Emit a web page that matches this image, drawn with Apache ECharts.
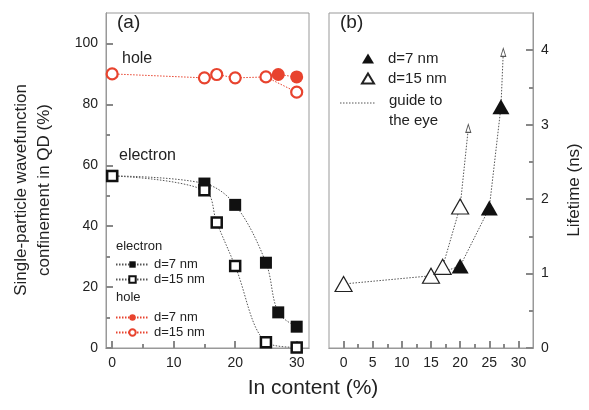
<!DOCTYPE html>
<html>
<head>
<meta charset="utf-8">
<script src="https://cdn.jsdelivr.net/npm/echarts@6/dist/echarts.min.js"></script>
<style>
  html, body { margin: 0; padding: 0; background: #fff; }
  #chart { width: 589px; height: 410px; }
</style>
</head>
<body>
<div id="chart"></div>
<script>
// ---- (a) single-particle confinement vs In content ----
const elec7  = [[0, 56.5], [15, 54], [20, 47], [25, 28], [27, 11.7], [30, 7]];
const elec15 = [[0, 56.5], [15, 51.8], [17, 41.2], [20, 26.9], [25, 1.9], [30, 0.2]];
const hole7  = [[27, 89.8], [30, 89]];
const hole15 = [[0, 90], [15, 88.7], [17, 89.8], [20, 88.7], [25, 89], [30, 84]];

// ---- (b) lifetime vs In content ----
const life7  = [[15, 0.97], [20, 1.1], [25, 1.88], [27, 3.24]];
const life15 = [[0, 0.86], [15, 0.97], [17, 1.09], [20, 1.9]];
// where the guide-to-the-eye arrows end
const arrowTip7  = [27.4, 3.97];
const arrowTip15 = [21.4, 2.95];

// tick positions
const ticksXa = [0, 10, 20, 30],  minorXa = [5, 15, 25];
const ticksYa = [0, 20, 40, 60, 80, 100], minorYa = [10, 30, 50, 70, 90];
const ticksXb = [0, 5, 10, 15, 20, 25, 30], minorXb = [2.5, 7.5, 12.5, 17.5, 22.5, 27.5];
const ticksYb = [0, 1, 2, 3, 4], minorYb = [0.5, 1.5, 2.5, 3.5];

const FONT = "'Liberation Sans', Arial, Helvetica, sans-serif";
const TXT = '#222';
const RED = '#e8432e';
const GUIDE = '#555';
const FRAME = '#999';

function axis(grid, min, max, labels, ticks, len, extra) {
  return Object.assign({
    type: 'value', gridIndex: grid, min: min, max: max,
    axisLine: { show: true, onZero: false, lineStyle: { color: FRAME, width: 1 } },
    splitLine: { show: false },
    axisTick: { show: true, inside: true, length: len, customValues: ticks,
                lineStyle: { color: '#888', width: 2 } },
    axisLabel: labels ? { show: true, customValues: labels, color: TXT, fontSize: 14,
                          fontFamily: FONT, margin: 8 } : { show: false }
  }, extra || {});
}

const arrowSym = 'path://M0,10 L5,0 L10,10 Z';
function guideSymbol(n) {
  return function (v, p) { return p.dataIndex === n - 1 ? arrowSym : 'none'; };
}

const guide7  = life7.concat([arrowTip7]);
const guide15 = life15.concat([arrowTip15]);

const option = {
  animation: false,
  backgroundColor: '#fff',
  textStyle: { fontFamily: FONT },
  grid: [
    { left: 106, top: 13, width: 203, height: 335, show: true, borderColor: FRAME, borderWidth: 1 },
    { left: 329, top: 13, width: 204, height: 335, show: true, borderColor: FRAME, borderWidth: 1 }
  ],
  xAxis: [
    axis(0, -1, 32, ticksXa, ticksXa, 7, { position: 'bottom' }),
    axis(0, -1, 32, null, minorXa, 4, { position: 'bottom' }),
    axis(1, -2.5, 32.5, ticksXb, ticksXb, 7, { position: 'bottom' }),
    axis(1, -2.5, 32.5, null, minorXb, 4, { position: 'bottom' })
  ],
  yAxis: [
    axis(0, 0, 110, ticksYa, ticksYa, 7, { position: 'left' }),
    axis(0, 0, 110, null, minorYa, 4, { position: 'left' }),
    axis(1, 0, 4.5, ticksYb, ticksYb, 7, { position: 'right' }),
    axis(1, 0, 4.5, null, minorYb, 4, { position: 'right' })
  ],
  legend: [
    {
      data: ['electron d=7 nm', 'electron d=15 nm'],
      orient: 'vertical', left: 110, top: 253, itemWidth: 33, itemHeight: 8, itemGap: 2,
      formatter: n => n.replace('electron ', ''),
      textStyle: { fontSize: 13, color: TXT, fontFamily: FONT }, selectedMode: false
    },
    {
      data: ['hole d=7 nm', 'hole d=15 nm'],
      orient: 'vertical', left: 110, top: 306, itemWidth: 33, itemHeight: 8, itemGap: 2,
      formatter: n => n.replace('hole ', ''),
      textStyle: { fontSize: 13, color: TXT, fontFamily: FONT }, selectedMode: false
    },
    {
      data: ['d=7 nm', 'd=15 nm'],
      orient: 'vertical', left: 356, top: 46, itemWidth: 12, itemHeight: 10, itemGap: 5,
      textStyle: { fontSize: 15, color: TXT, fontFamily: FONT, padding: [0, 0, 0, 9] }, selectedMode: false
    }
  ],
  graphic: [
    { type: 'text', left: 117, top: 13, style: { text: '(a)', fill: TXT, font: '19px ' + FONT } },
    { type: 'text', left: 340, top: 13, style: { text: '(b)', fill: TXT, font: '19px ' + FONT } },
    { type: 'text', left: 122, top: 51, style: { text: 'hole', fill: TXT, font: '16px ' + FONT } },
    { type: 'text', left: 119, top: 148, style: { text: 'electron', fill: TXT, font: '16px ' + FONT } },
    { type: 'text', left: 116, top: 240, style: { text: 'electron', fill: TXT, font: '13px ' + FONT } },
    { type: 'text', left: 116, top: 291, style: { text: 'hole', fill: TXT, font: '13px ' + FONT } },
    { type: 'line', shape: { x1: 340, y1: 103, x2: 375, y2: 103 },
      style: { stroke: GUIDE, lineWidth: 1, lineDash: [1.5, 1.5] } },
    { type: 'text', left: 389, top: 91, style: { text: 'guide to\nthe eye', fill: TXT, font: '15px ' + FONT, lineHeight: 20 } },
    { type: 'text', x: 33, y: 190, rotation: Math.PI / 2,
      style: { text: 'Single-particle wavefunction\nconfinement in QD (%)', fill: TXT, font: '17px ' + FONT,
               align: 'center', verticalAlign: 'middle', lineHeight: 23 } },
    { type: 'text', x: 574, y: 190, rotation: Math.PI / 2,
      style: { text: 'Lifetime (ns)', fill: TXT, font: '17px ' + FONT, align: 'center', verticalAlign: 'middle' } },
    { type: 'text', x: 313, y: 388,
      style: { text: 'In content (%)', fill: TXT, font: '21px ' + FONT, align: 'center', verticalAlign: 'middle' } }
  ],
  series: [
    // (a) electron
    { name: 'electron d=7 nm', type: 'line', xAxisIndex: 0, yAxisIndex: 0, data: elec7, smooth: 0.35,
      symbol: 'rect', symbolSize: 12,
      lineStyle: { color: GUIDE, width: 1, type: [1.5, 1.5] },
      itemStyle: { color: '#111', borderColor: '#111', borderWidth: 0 }, z: 3 },
    { name: 'electron d=15 nm', type: 'line', xAxisIndex: 0, yAxisIndex: 0, data: elec15, smooth: 0.35,
      symbol: 'rect', symbolSize: 10,
      lineStyle: { color: GUIDE, width: 1, type: [1.5, 1.5] },
      itemStyle: { color: '#fff', borderColor: '#111', borderWidth: 2.5 }, z: 4 },
    // (a) hole
    { name: 'hole d=7 nm', type: 'line', xAxisIndex: 0, yAxisIndex: 0, data: hole7,
      symbol: 'circle', symbolSize: 13,
      lineStyle: { color: RED, width: 1, type: [1.5, 1.5] },
      itemStyle: { color: RED, borderColor: RED, borderWidth: 0 }, z: 3 },
    { name: 'hole d=15 nm', type: 'line', xAxisIndex: 0, yAxisIndex: 0, data: hole15,
      symbol: 'circle', symbolSize: 11,
      lineStyle: { color: RED, width: 1, type: [1.5, 1.5] },
      itemStyle: { color: '#fff', borderColor: RED, borderWidth: 2.2 }, z: 4 },
    // (b) guides to the eye
    { name: 'guide', type: 'line', xAxisIndex: 2, yAxisIndex: 2, data: guide7,
      symbol: guideSymbol(guide7.length), symbolSize: [5, 8], showAllSymbol: true,
      lineStyle: { color: GUIDE, width: 1, type: [1.5, 1.5] },
      itemStyle: { color: '#fff', borderColor: GUIDE, borderWidth: 1 }, z: 2, silent: true },
    { name: 'guide', type: 'line', xAxisIndex: 2, yAxisIndex: 2, data: guide15,
      symbol: guideSymbol(guide15.length), symbolSize: [5, 8], showAllSymbol: true,
      lineStyle: { color: GUIDE, width: 1, type: [1.5, 1.5] },
      itemStyle: { color: '#fff', borderColor: GUIDE, borderWidth: 1 }, z: 2, silent: true },
    // (b) lifetimes
    { name: 'd=7 nm', type: 'scatter', xAxisIndex: 2, yAxisIndex: 2, data: life7,
      symbol: 'triangle', symbolSize: [17, 15],
      itemStyle: { color: '#111', borderColor: '#111', borderWidth: 0, opacity: 1 }, z: 3 },
    { name: 'd=15 nm', type: 'scatter', xAxisIndex: 2, yAxisIndex: 2, data: life15,
      symbol: 'triangle', symbolSize: [17, 15],
      itemStyle: { color: '#fff', borderColor: '#222', borderWidth: 1.2, opacity: 1 }, z: 4 }
  ]
};

const chart = echarts.init(document.getElementById('chart'), null, { renderer: 'canvas' });
chart.setOption(option);
</script>
</body>
</html>
